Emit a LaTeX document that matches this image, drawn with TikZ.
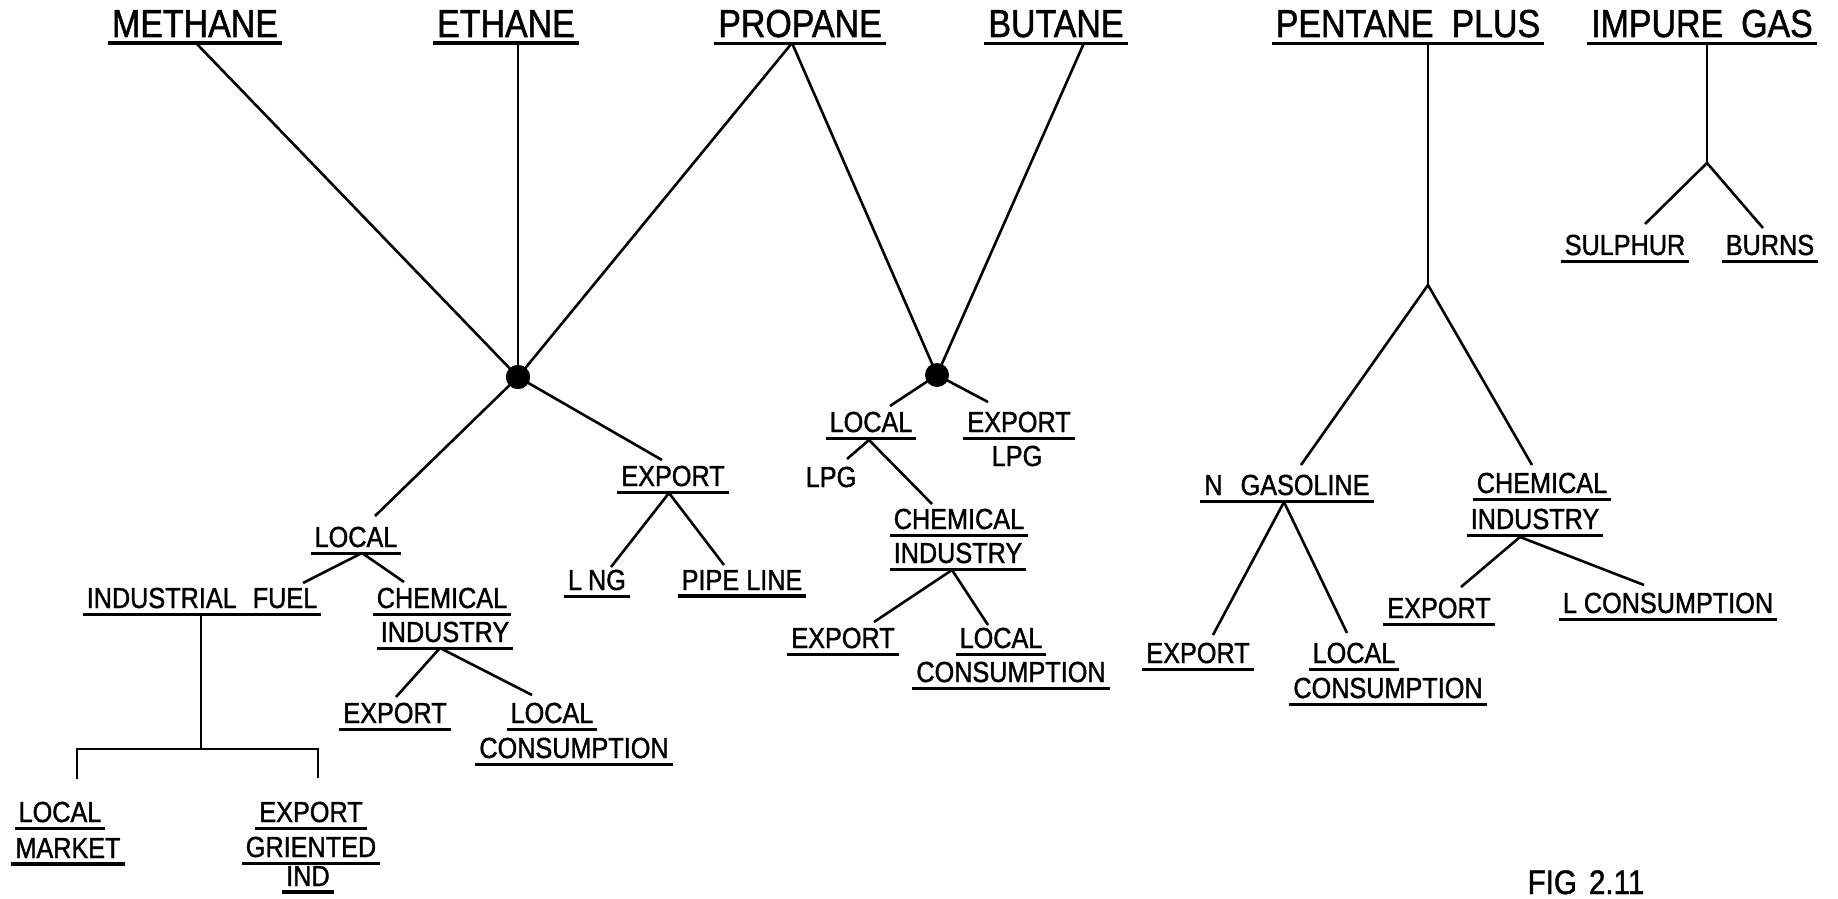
\documentclass[tikz,border=0pt]{standalone}
\usepackage{fontspec}
\usetikzlibrary{calc}
\newfontfamily\lblfont[FakeStretch=0.87,FakeBold=1.3]{Liberation Sans}
\newcommand\bigsz{\fontsize{19.5}{22}\selectfont}
\newcommand\smsz{\fontsize{14.5}{17}\selectfont}
\newcommand\figsz{\fontsize{17}{20}\selectfont}
\newcommand\ulx[1]{\vtop{\hbox{\kern2pt #1\kern2pt}\kern2.2pt\hrule height 1.6pt}}
\tikzset{
  lbl/.style={inner sep=0pt, anchor=base, font=\lblfont\smsz},
  big/.style={lbl, font=\lblfont\bigsz},
  conn/.style={line width=1.3pt},
  dotn/.style={circle, fill=black, inner sep=0pt, minimum size=12pt}
}
\begin{document}
\begin{tikzpicture}[x=0.5pt,y=-0.5pt]
\useasboundingbox (0,0) rectangle (1838,899);
\fill[white] (0,0) rectangle (1838,899);
\clip (0,0) rectangle (1838,899);

% top labels
\node[big] (methane) at (195,37) {\ulx{METHANE}};
\node[big] (ethane) at (506,37) {\ulx{ETHANE}};
\node[big] (propane) at (800,37) {\ulx{PROPANE}};
\node[big] (butane) at (1056,37) {\ulx{BUTANE}};
\node[big] (pentane) at (1408,37) {\ulx{PENTANE\hspace{9pt}PLUS}};
\node[big] (impure) at (1702,37) {\ulx{IMPURE\hspace{9pt}GAS}};

% junctions
\node[dotn] (dotA) at (518,377) {};
\node[dotn] (dotB) at (937,375) {};
\coordinate (forkP) at (1428,285);
\coordinate (forkI) at (1707,163);

% impure gas branch
\node[lbl] (sulphur) at (1625,255) {\ulx{SULPHUR}};
\node[lbl] (burns) at (1770,255) {\ulx{BURNS}};

% left tree
\node[lbl] (locA) at (356,547) {\ulx{LOCAL}};
\node[lbl] (indfuel) at (202,608) {\ulx{INDUSTRIAL\hspace{8pt}FUEL}};
\node[lbl] (chemA1) at (442,608) {\ulx{CHEMICAL}};
\node[lbl] (chemA2) at (445,642) {\ulx{INDUSTRY}};
\node[lbl] (expA) at (395,723) {\ulx{EXPORT}};
\node[lbl] (lclA) at (552,723) {\ulx{LOCAL}};
\node[lbl] (consA) at (574,758) {\ulx{CONSUMPTION}};
\node[lbl] (locmkt1) at (60,822) {\ulx{LOCAL}};
\node[lbl] (locmkt2) at (68,858) {\ulx{MARKET}};
\node[lbl] (expor1) at (311,822) {\ulx{EXPORT}};
\node[lbl] (expor2) at (311,857) {\ulx{GRIENTED}};
\node[lbl] (expor3) at (308,886) {\ulx{IND}};

\node[lbl] (expB) at (673,486) {\ulx{EXPORT}};
\node[lbl] (lng) at (597,590) {\ulx{L\kern3pt NG}};
\node[lbl] (pipe) at (742,590) {\ulx{PIPE LINE}};

% propane/butane tree
\node[lbl] (locC) at (871,432) {\ulx{LOCAL}};
\node[lbl] (expC) at (1019,432) {\ulx{EXPORT}};
\node[lbl] (lpgC) at (1017,466) {LPG};
\node[lbl] (lpgD) at (831,487) {LPG};
\node[lbl] (chemD1) at (959,529) {\ulx{CHEMICAL}};
\node[lbl] (chemD2) at (958,563) {\ulx{INDUSTRY}};
\node[lbl] (expD) at (843,648) {\ulx{EXPORT}};
\node[lbl] (lclD) at (1001,648) {\ulx{LOCAL}};
\node[lbl] (consD) at (1011,682) {\ulx{CONSUMPTION}};

% pentane plus tree
\node[lbl] (ngas) at (1287,495) {\ulx{N\hspace{9pt}GASOLINE}};
\node[lbl] (expE) at (1198,663) {\ulx{EXPORT}};
\node[lbl] (lclE) at (1354,663) {\ulx{LOCAL}};
\node[lbl] (consE) at (1388,698) {\ulx{CONSUMPTION}};
\node[lbl] (chemE1) at (1542,493) {\ulx{CHEMICAL}};
\node[lbl] (chemE2) at (1535,529) {\ulx{INDUSTRY}};
\node[lbl] (expF) at (1439,618) {\ulx{EXPORT}};
\node[lbl] (lconsF) at (1668,613) {\ulx{L CONSUMPTION}};

\node[lbl, font=\lblfont\figsz] (fig) at (1586,894) {FIG\hspace{6pt}2.11};

% connectors from top labels
\draw[conn] ($(methane.base)+(1,6)$) -- (dotA.center);
\draw[conn] ($(ethane.base)+(12,6)$) -- (dotA.center);
\draw[conn] ($(propane.base)+(-8,6)$) -- (dotA.center);
\draw[conn] ($(propane.base)+(-8,6)$) -- (dotB.center);
\draw[conn] ($(butane.base)+(28,6)$) -- (dotB.center);
\draw[conn] ($(pentane.base)+(20,6)$) -- (forkP);
\draw[conn] (forkP) -- ($(ngas.base)+(14,-30)$);
\draw[conn] (forkP) -- ($(chemE1.base)+(-10,-28)$);
\draw[conn] ($(impure.base)+(5,6)$) -- (forkI);
\draw[conn] (forkI) -- ($(sulphur.base)+(20,-31)$);
\draw[conn] (forkI) -- ($(burns.base)+(-7,-27)$);

% left tree connectors
\draw[conn] (dotA.center) -- ($(locA.base)+(19,-31)$);
\draw[conn] (dotA.center) -- ($(expB.base)+(-11,-26)$);
\draw[conn] ($(locA.base)+(6,6)$) -- ($(indfuel.base)+(101,-25)$);
\draw[conn] ($(locA.base)+(6,6)$) -- ($(chemA1.base)+(-38,-26)$);
\draw[conn] ($(chemA2.base)+(-5,6)$) -- ($(expA.base)+(1,-26)$);
\draw[conn] ($(chemA2.base)+(-5,6)$) -- ($(lclA.base)+(-20,-28)$);
\draw[conn] ($(indfuel.base)+(-1,6)$) -- ++(0,135);
\draw[conn] ($(locmkt1.base)+(17,-43)$) -- ++(0,-30) -| ($(expor1.base)+(7,-44)$);
\draw[conn] ($(expB.base)+(-4,7)$) -- ($(lng.base)+(14,-23)$);
\draw[conn] ($(expB.base)+(-4,7)$) -- ($(pipe.base)+(-18,-25)$);

% propane/butane connectors
\draw[conn] (dotB.center) -- ($(locC.base)+(19,-26)$);
\draw[conn] (dotB.center) -- ($(expC.base)+(-31,-30)$);
\draw[conn] ($(locC.base)+(-2,8)$) -- ($(lpgD.base)+(16,-28)$);
\draw[conn] ($(locC.base)+(-2,8)$) -- ($(chemD1.base)+(-27,-25)$);
\draw[conn] ($(chemD2.base)+(-6,7)$) -- ($(expD.base)+(31,-26)$);
\draw[conn] ($(chemD2.base)+(-6,7)$) -- ($(lclD.base)+(-13,-23)$);

% pentane plus connectors
\draw[conn] ($(ngas.base)+(-3,7)$) -- ($(expE.base)+(15,-28)$);
\draw[conn] ($(ngas.base)+(-3,7)$) -- ($(lclE.base)+(-7,-30)$);
\draw[conn] ($(chemE2.base)+(-15,8)$) -- ($(expF.base)+(22,-31)$);
\draw[conn] ($(chemE2.base)+(-15,8)$) -- ($(lconsF.base)+(-24,-28)$);

% dots on top
\fill (dotA.center) circle (6pt);
\fill (dotB.center) circle (5.5pt);
\end{tikzpicture}
\end{document}
